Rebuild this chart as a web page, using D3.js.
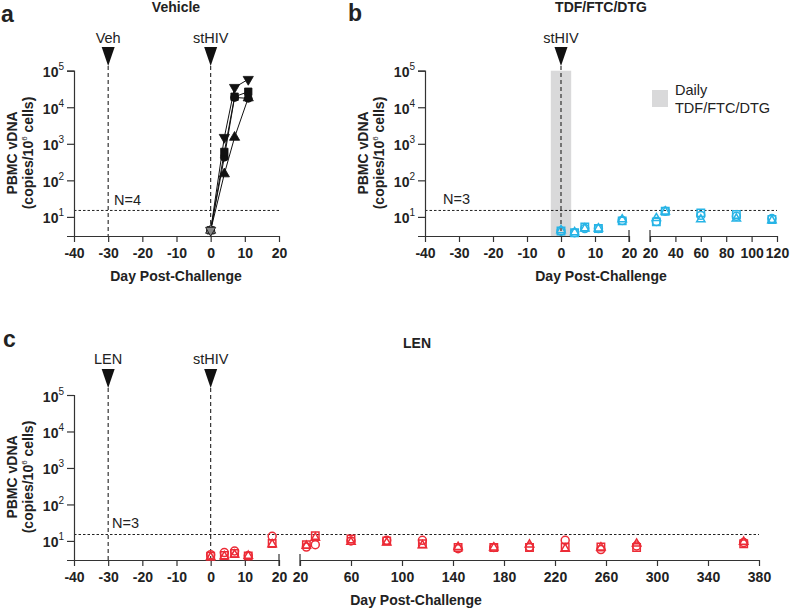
<!DOCTYPE html>
<html>
<head>
<meta charset="utf-8">
<script src="https://cdn.jsdelivr.net/npm/d3@7"></script>
<style>
  html, body { margin: 0; padding: 0; background: #fff; }
  svg { display: block; font-family: "Liberation Sans", Arial, sans-serif; }
</style>
</head>
<body>
<svg id="chart" width="790" height="613"></svg>
<script>
// ---------------- DATA ----------------
// Panel a: Vehicle
const daysA = [0, 4, 7, 11];
const vehCircle   = [4.3, 430, 18500, 17500];
const vehSquare   = [4.3, 600, 19400, 26600];
const vehTriUp    = [4.3, 150, 1500, 18000];
const vehTriDown  = [4.3, 1500, 35000, 58000];

// Panel b: TDF/FTC/DTG
const daysB = [0, 4, 7, 11, 18, 25, 32, 60, 88, 116];
const tdfCircle   = [4.1, 3.7, 4.8, 4.8, 8.0, 7.5, 14.3, 11.0, 10.4, 9.0];
const tdfSquare   = [4.1, 3.7, 5.3, 4.8, 7.8, 7.3, 14.3, 12.9, 11.6, 8.5];
const tdfTriangle = [4.3, 3.8, 4.8, 4.8, 8.5, 9.2, 14.0, 8.5, 9.0, 8.0];

// Panel c: LEN
const daysC = [0, 4, 7, 11, 18, 25, 32, 60, 88, 116, 144, 172, 200, 228, 256, 284, 368];
const lenCircle   = [4.2, 4.8, 5.3, 3.9, 13.4, 6.8, 7.9, 10.0, 10.4, 10.4, 6.1, 6.6, 6.8, 10.4, 5.8, 7.3, 9.0];
const lenSquare   = [3.8, 4.0, 4.5, 3.9, 8.5, 7.9, 14.0, 11.3, 10.0, 8.4, 6.6, 6.6, 6.6, 6.8, 6.8, 6.6, 8.4];
const lenTriangle = [3.6, 3.8, 4.2, 3.9, 8.1, 7.3, 12.2, 9.4, 9.0, 7.6, 6.8, 6.6, 7.9, 6.1, 6.6, 8.4, 9.4];

// Ticks and annotations
const yTicks = [10, 100, 1000, 10000, 100000];
const yTickExp = ["1", "2", "3", "4", "5"];
const xTicksEarly = [-40, -30, -20, -10, 0, 10, 20];
const xTicksLateB = [20, 40, 60, 80, 100, 120];
const xTicksLateC = [20, 60, 100, 140, 180, 220, 260, 300, 340, 380];
const lodValue = 15;
const treatmentBand = [-3, 3];

const CYAN = "#27b4e6";
const RED = "#ec2b36";
const AXIS = "#333";

const svg = d3.select("#chart");

// ---------------- helpers ----------------
function makeY(top, bottom) {
  return d3.scaleLog().domain([3, 1e5]).range([bottom, top]);
}

function drawYAxis(g, y, x0) {
  const ax = g.append("g").attr("transform", `translate(${x0},0)`)
    .call(d3.axisLeft(y).tickValues(yTicks).tickSize(7).tickPadding(3).tickFormat(""));
  ax.select(".domain").attr("stroke", AXIS).attr("stroke-width", 1.2);
  ax.selectAll(".tick line").attr("stroke", AXIS).attr("stroke-width", 1.2);
  ax.selectAll(".tick").each(function (d, i) {
    const t = d3.select(this).append("text")
      .attr("x", -10).attr("y", 6)
      .attr("text-anchor", "end")
      .attr("fill", "#222")
      .style("font-size", "14px").style("font-weight", "bold");
    t.append("tspan").text("10");
    t.append("tspan").attr("dy", -7).style("font-size", "10px").style("font-weight", "normal").text(yTickExp[i]);
  });
  ax.attr("font-family", null);
}

function drawYTitle(g, cx, cy) {
  const t = g.append("text").attr("transform", `translate(${cx},${cy}) rotate(-90)`)
    .attr("text-anchor", "middle").attr("fill", "#222")
    .style("font-size", "14px").style("font-weight", "bold");
  t.append("tspan").attr("x", 0).attr("dy", 0).text("PBMC vDNA");
  const l2 = t.append("tspan").attr("x", 0).attr("dy", 16);
  l2.append("tspan").text("(copies/10");
  l2.append("tspan").attr("dy", -6).style("font-size", "8px").style("font-weight", "normal").text("6");
  l2.append("tspan").attr("dy", 6).text(" cells)");
}

function drawXSegment(g, xs, ticks, yBase, capStart, capEnd) {
  const ax = g.append("g").attr("transform", `translate(0,${yBase})`)
    .call(d3.axisBottom(xs).tickValues(ticks).tickSize(6).tickSizeOuter(0).tickPadding(6)
      .tickFormat(d => String(d)));
  ax.select(".domain").attr("stroke", AXIS).attr("stroke-width", 1.2);
  ax.selectAll(".tick line").attr("stroke", AXIS).attr("stroke-width", 1.2);
  ax.selectAll(".tick text").attr("fill", "#222")
    .style("font-size", "14px").style("font-weight", "bold")
    .style("font-family", "'Liberation Sans', Arial, sans-serif");
  ax.attr("font-family", null);
  const r = xs.range();
  if (capStart) g.append("line").attr("x1", r[0]).attr("x2", r[0]).attr("y1", yBase - 6).attr("y2", yBase + 6).attr("stroke", AXIS).attr("stroke-width", 1.2);
  if (capEnd) g.append("line").attr("x1", r[1]).attr("x2", r[1]).attr("y1", yBase - 6).attr("y2", yBase + 6).attr("stroke", AXIS).attr("stroke-width", 1.2);
}

function drawArrow(g, x, label, labelY, triTop, triBottom, yBase) {
  g.append("text").attr("x", x).attr("y", labelY).attr("text-anchor", "middle")
    .attr("fill", "#222").style("font-size", "14.5px").text(label);
  g.append("path")
    .attr("d", `M${x - 6.5},${triTop} L${x + 6.5},${triTop} L${x},${triBottom} Z`)
    .attr("fill", "#111");
  g.append("line").attr("x1", x).attr("x2", x).attr("y1", triBottom).attr("y2", yBase)
    .attr("stroke", "#222").attr("stroke-width", 1.1).attr("stroke-dasharray", "4,3");
}

function drawLOD(g, y, x1, x2, label, lx, ly) {
  g.append("line").attr("x1", x1).attr("x2", x2).attr("y1", y(lodValue)).attr("y2", y(lodValue))
    .attr("stroke", "#222").attr("stroke-width", 1).attr("stroke-dasharray", "2.5,2");
  g.append("text").attr("x", lx).attr("y", ly).attr("fill", "#222").style("font-size", "14.5px").text(label);
}

function drawText(g, x, y, txt, size, weight, anchor) {
  g.append("text").attr("x", x).attr("y", y).attr("text-anchor", anchor || "middle")
    .attr("fill", "#222").style("font-size", size + "px").style("font-weight", weight || "normal").text(txt);
}

const symCircle = d3.symbol().type(d3.symbolCircle);
const symSquare = d3.symbol().type(d3.symbolSquare);
const symTri = d3.symbol().type(d3.symbolTriangle);

function drawOpenSeries(g, days, vals, xf, y, sym, size, color) {
  g.append("g").selectAll("path").data(days.map((d, i) => [d, vals[i]])).join("path")
    .attr("transform", d => `translate(${xf(d[0])},${y(d[1])})`)
    .attr("d", sym.size(size)())
    .attr("fill", "none").attr("stroke", color).attr("stroke-width", 1.5);
}

// ---------------- Panel a ----------------
{
  const g = svg.append("g");
  const x = d3.scaleLinear().domain([-40, 20]).range([74, 279]);
  const y = makeY(70.7, 236);
  drawText(g, 1, 22, "a", 23, "bold", "start");
  drawText(g, 176, 12, "Vehicle", 14, "bold");
  drawLOD(g, y, 74, 279, "N=4", 114, 205);
  drawArrow(g, x(-30), "Veh", 43, 47, 66, 236);
  drawArrow(g, x(0), "stHIV", 43, 47, 66, 236);
  drawYAxis(g, y, 74);
  drawXSegment(g, x, xTicksEarly, 236, false, false);
  drawYTitle(g, 17, 153);
  drawText(g, 176, 281, "Day Post-Challenge", 14, "bold");

  const series = [
    { vals: vehCircle, sym: symCircle, size: 50, rot: 0 },
    { vals: vehSquare, sym: symSquare, size: 55, rot: 0 },
    { vals: vehTriUp, sym: symTri, size: 45, rot: 0 },
    { vals: vehTriDown, sym: symTri, size: 45, rot: 180 }
  ];
  const line = d3.line().x(d => x(d[0])).y(d => y(d[1]));
  series.forEach(s => {
    const pts = daysA.map((d, i) => [d, s.vals[i]]);
    g.append("path").datum(pts).attr("d", line).attr("fill", "none").attr("stroke", "#111").attr("stroke-width", 1);
  });
  series.forEach(s => {
    const pts = daysA.map((d, i) => [d, s.vals[i]]);
    g.append("g").selectAll("path").data(pts).join("path")
      .attr("transform", d => `translate(${x(d[0])},${y(d[1])}) rotate(${s.rot})`)
      .attr("d", s.sym.size(s.size)())
      .attr("fill", (d, i) => i === 0 ? "#888" : "#111")
      .attr("stroke", "#111").attr("stroke-width", 0.8);
  });
}

// ---------------- Panel b ----------------
{
  const g = svg.append("g");
  const x1 = d3.scaleLinear().domain([-40, 20]).range([425, 629]);
  const x2 = d3.scaleLinear().domain([20, 120]).range([650, 777]);
  const xf = d => d <= 20 ? x1(d) : x2(d);
  const y = makeY(70.7, 236);
  drawText(g, 348, 21, "b", 23, "bold", "start");
  drawText(g, 601, 12, "TDF/FTC/DTG", 14, "bold");
  g.append("rect").attr("x", x1(treatmentBand[0])).attr("width", x1(treatmentBand[1]) - x1(treatmentBand[0]))
    .attr("y", 70.7).attr("height", 236 - 70.7).attr("fill", "#d9d9da");
  drawLOD(g, y, 425, 777, "N=3", 443, 204);
  drawArrow(g, x1(0), "stHIV", 43, 47, 66, 236);
  drawYAxis(g, y, 425);
  drawXSegment(g, x1, xTicksEarly, 236, false, true);
  drawXSegment(g, x2, xTicksLateB, 236, true, false);
  drawYTitle(g, 368, 153);
  drawText(g, 601, 281, "Day Post-Challenge", 14, "bold");
  // legend
  g.append("rect").attr("x", 652).attr("y", 90).attr("width", 16).attr("height", 17).attr("fill", "#d9d9da");
  drawText(g, 675, 95, "Daily", 14.5, "normal", "start");
  drawText(g, 675, 113, "TDF/FTC/DTG", 14.5, "normal", "start");

  drawOpenSeries(g, daysB, tdfSquare, xf, y, symSquare, 55, CYAN);
  drawOpenSeries(g, daysB, tdfCircle, xf, y, symCircle, 50, CYAN);
  drawOpenSeries(g, daysB, tdfTriangle, xf, y, symTri, 30, CYAN);
}

// ---------------- Panel c ----------------
{
  const g = svg.append("g");
  const x1 = d3.scaleLinear().domain([-40, 20]).range([74, 279]);
  const x2 = d3.scaleLinear().domain([20, 380]).range([300, 759]);
  const xf = d => d <= 20 ? x1(d) : x2(d);
  const y = makeY(395, 560);
  drawText(g, 3, 347, "c", 23, "bold", "start");
  drawText(g, 417, 348, "LEN", 14, "bold");
  drawLOD(g, y, 74, 759, "N=3", 112, 528);
  drawArrow(g, x1(-30), "LEN", 364, 369, 388, 560);
  drawArrow(g, x1(0), "stHIV", 364, 369, 388, 560);
  drawYAxis(g, y, 74);
  drawXSegment(g, x1, xTicksEarly, 560, false, true);
  drawXSegment(g, x2, xTicksLateC, 560, true, false);
  drawYTitle(g, 17, 477);
  drawText(g, 416, 605, "Day Post-Challenge", 14, "bold");

  drawOpenSeries(g, daysC, lenSquare, xf, y, symSquare, 55, RED);
  drawOpenSeries(g, daysC, lenCircle, xf, y, symCircle, 50, RED);
  drawOpenSeries(g, daysC, lenTriangle, xf, y, symTri, 30, RED);
}
</script>
</body>
</html>
